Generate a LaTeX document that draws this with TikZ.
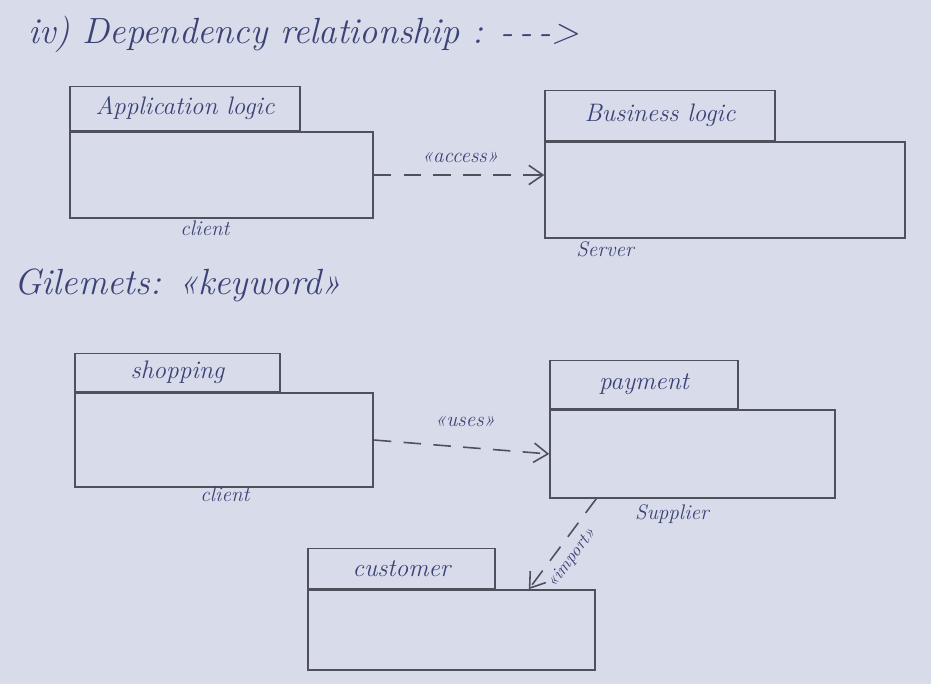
\documentclass[tikz,border=0pt]{standalone}
\usepackage{fontspec}
\usepackage{xcolor}
\usetikzlibrary{arrows.meta,positioning}

\definecolor{paper}{RGB}{216,219,233}
\definecolor{ink}{RGB}{58,66,118}
\definecolor{pencil}{RGB}{78,80,92}

\begin{document}
\begin{tikzpicture}[x=0.02cm, y=-0.02cm,
    pkgbody/.style={rectangle, draw=pencil, line width=0.9pt, inner sep=0pt},
    pkgtab/.style={rectangle, draw=pencil, line width=0.9pt, anchor=south west, inner sep=2pt, font=\Large\itshape, text=ink},
    tag/.style={font=\large\itshape, text=ink},
    head/.style={font=\huge\itshape, text=ink, anchor=west},
    dep/.style={-{Straight Barb[length=8pt, width=11pt]}, dash pattern=on 10pt off 7pt, line width=0.9pt, draw=pencil},
    deplabel/.style={font=\large\itshape, text=ink}]

    % Paper
    \fill[paper] (0,0) rectangle (931,684);
    \useasboundingbox (0,0) rectangle (931,684);

    % Headings
    \node[head] (title) at (22,34) {iv) Dependency relationship : \mbox{-\,-\,-\textgreater}};
    \node[head] (guill) at (8,285) {Gilemets: «keyword»};

    % Row 1: client and server packages
    \node[pkgbody, minimum width=6.06cm, minimum height=1.72cm] (appbody) at (221.5,175) {};
    \node[pkgtab, minimum width=4.6cm, minimum height=0.88cm] (apptab) at (appbody.north west) {Application logic};
    \node[tag] (appname) at (205,228) {client};

    \node[pkgbody, minimum width=7.2cm, minimum height=1.92cm] (bizbody) at (725,190) {};
    \node[pkgtab, minimum width=4.6cm, minimum height=1.0cm] (biztab) at (bizbody.north west) {Business logic};
    \node[tag] (bizname) at (605,249) {Server};

    % Row 2: client and supplier packages
    \node[pkgbody, minimum width=5.96cm, minimum height=1.88cm] (shopbody) at (224,440) {};
    \node[pkgtab, minimum width=4.1cm, minimum height=0.76cm] (shoptab) at (shopbody.north west) {shopping};
    \node[tag] (shopname) at (225,494) {client};

    \node[pkgbody, minimum width=5.7cm, minimum height=1.76cm] (paybody) at (692.5,454) {};
    \node[pkgtab, minimum width=3.76cm, minimum height=0.96cm] (paytab) at (paybody.north west) {payment};
    \node[tag] (payname) at (672,514) {Supplier};

    % Row 3: imported package
    \node[pkgbody, minimum width=5.74cm, minimum height=1.6cm] (custbody) at (451.5,630) {};
    \node[pkgtab, minimum width=3.74cm, minimum height=0.8cm] (custtab) at (custbody.north west) {customer};

    % Dependencies
    \draw[dep] (appbody.east) -- (appbody.east -| bizbody.west);
    \node[deplabel] (access) at (460,158) {«access»};

    \draw[dep] (shopbody.east) -- (paybody.west);
    \node[deplabel] (uses) at (465,422) {«uses»};

    \draw[dep] ([xshift=0.94cm]paybody.south west) -- node[deplabel, sloped, below=1pt, pos=0.55, font=\normalsize\itshape] (import) {«import»} ([xshift=-1.34cm]custbody.north east);
\end{tikzpicture}
\end{document}
